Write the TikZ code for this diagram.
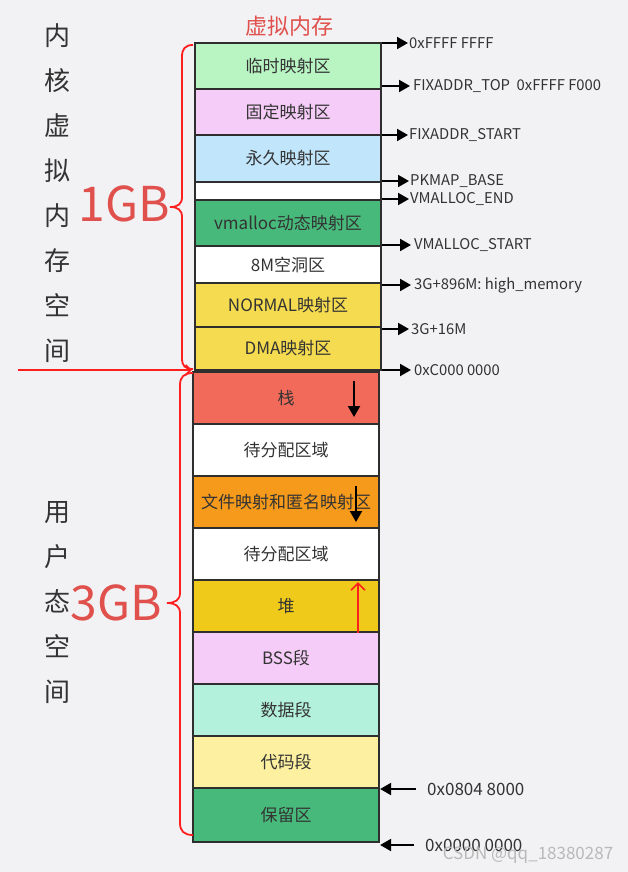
\documentclass[tikz,border=0pt]{standalone}
\usepackage{fontspec}
\setmainfont{Noto Sans CJK SC}
\usetikzlibrary{arrows.meta}
\definecolor{bg}{HTML}{F2F2F4}
\definecolor{boxline}{HTML}{2E2E2E}
\definecolor{txt}{HTML}{333333}
\definecolor{titlered}{HTML}{E0504C}
\definecolor{brred}{HTML}{FF1E1E}
\definecolor{cgreenl}{HTML}{B9F4C3}
\definecolor{cpink}{HTML}{F5CCF7}
\definecolor{cblue}{HTML}{C1E6FB}
\definecolor{cgreen}{HTML}{47B97B}
\definecolor{cyellow}{HTML}{F4DB4F}
\definecolor{cstack}{HTML}{F26A5A}
\definecolor{corange}{HTML}{F59A1B}
\definecolor{cheap}{HTML}{F0CA1A}
\definecolor{cmint}{HTML}{B3F1DC}
\definecolor{ccode}{HTML}{FDF1A1}
\begin{document}
\begin{tikzpicture}[x=1pt,y=-1pt,
  box/.style={draw=boxline,line width=2.2pt,minimum width=186pt,inner sep=0pt,
    font=\fontsize{17}{20}\selectfont,text=txt},
  arr/.style={line width=2pt,-{Triangle[length=11pt,width=12pt]}},
  lbl/.style={anchor=west,inner sep=0pt,font=\fontsize{14.8}{16}\selectfont,text=txt},
  lblb/.style={anchor=west,inner sep=0pt,font=\fontsize{17}{18}\selectfont,text=txt},
  redline/.style={draw=brred,line width=1.8pt},
  vtext/.style={align=center,inner sep=0pt,text=txt,font=\fontsize{26}{45}\selectfont},
  big/.style={inner sep=0pt,text=titlered,font=\fontsize{48}{50}\selectfont}
]
\fill[bg] (0,0) rectangle (628,872);
\useasboundingbox (0,0) rectangle (628,872);

% title
\node[text=titlered,font=\fontsize{22}{24}\selectfont] (title) at (289,26) {虚拟内存};

% kernel boxes
\node[box,fill=cgreenl,minimum height=46pt] (k1) at (288,66) {临时映射区};
\node[box,fill=cpink,minimum height=46pt] (k2) at (288,112) {固定映射区};
\node[box,fill=cblue,minimum height=47pt] (k3) at (288,158.5) {永久映射区};
\node[box,fill=white,minimum height=18pt] (k4) at (288,191) {};
\node[box,fill=cgreen,minimum height=46pt] (k5) at (288,223) {vmalloc动态映射区};
\node[box,fill=white,minimum height=37pt] (k6) at (288,264.5) {8M空洞区};
\node[box,fill=cyellow,minimum height=44pt] (k7) at (288,305) {NORMAL映射区};
\node[box,fill=cyellow,minimum height=43pt] (k8) at (288,348.5) {DMA映射区};

% user boxes
\node[box,fill=cstack,minimum height=52pt] (u1) at (286,398) {栈};
\node[box,fill=white,minimum height=52pt] (u2) at (286,450) {待分配区域};
\node[box,fill=corange,minimum height=52pt] (u3) at (286,502) {文件映射和匿名映射区};
\node[box,fill=white,minimum height=52pt] (u4) at (286,554) {待分配区域};
\node[box,fill=cheap,minimum height=52pt] (u5) at (286,606) {堆};
\node[box,fill=cpink,minimum height=52pt] (u6) at (286,658) {BSS段};
\node[box,fill=cmint,minimum height=52pt] (u7) at (286,710) {数据段};
\node[box,fill=ccode,minimum height=52pt] (u8) at (286,762) {代码段};
\node[box,fill=cgreen,minimum height=54pt] (u9) at (286,815) {保留区};

% right labels (kernel)
\node[lbl] (l1) at (409,43) {0xFFFF FFFF};
\node[lbl] (l2) at (413,86) {FIXADDR\_TOP\ \ 0xFFFF F000};
\node[lbl] (l3) at (409,135) {FIXADDR\_START};
\node[lbl] (l4) at (410,181) {PKMAP\_BASE};
\node[lbl] (l5) at (410,199) {VMALLOC\_END};
\node[lbl] (l6) at (414,245) {VMALLOC\_START};
\node[lbl] (l7) at (414,285) {3G+896M: high\_memory};
\node[lbl] (l8) at (411,329) {3G+16M};
\node[lbl] (l9) at (414,370) {0xC000 0000};

\draw[arr] (k1.east |- l1.west) -- ([xshift=-1pt]l1.west);
\draw[arr] (k1.east |- l2.west) -- ([xshift=-3pt]l2.west);
\draw[arr] (k3.east |- l3.west) -- ([xshift=-1pt]l3.west);
\draw[arr] (k3.east |- l4.west) -- ([xshift=-1pt]l4.west);
\draw[arr] (k5.east |- l5.west) -- ([xshift=-1pt]l5.west);
\draw[arr] (k5.east |- l6.west) -- ([xshift=-3pt]l6.west);
\draw[arr] (k7.east |- l7.west) -- ([xshift=-3pt]l7.west);
\draw[arr] (k8.east |- l8.west) -- ([xshift=-2pt]l8.west);
\draw[arr] (k8.east |- l9.west) -- ([xshift=-3pt]l9.west);

% bottom labels (user)
\node[lblb] (l10) at (427,789) {0x0804 8000};
\node[lblb] (l11) at (425,845) {0x0000 0000};
\coordinate (t10) at (416,789);
\coordinate (t11) at (414,845);
\draw[arr] (t10) -- (u8.east |- t10);
\draw[arr] (t11) -- (u9.east |- t11);

% inner arrows
\coordinate (sa) at (354,381);
\coordinate (sb) at (354,417);
\draw[arr] (sa) -- (sb);
\coordinate (fa) at (356,486);
\coordinate (fb) at (356,522);
\draw[arr] (fa) -- (fb);
\coordinate (ha) at (358,633);
\coordinate (hb) at (358,582);
\draw[redline,line width=1.6pt,-{Straight Barb[length=7pt,width=14pt]}] (ha) -- (hb);

% braces
\draw[redline] (193,45) .. controls (185,45) and (182,49) .. (182,57) -- (182,197)
  .. controls (182,204) and (178,207) .. (170,207)
  .. controls (178,207) and (182,210) .. (182,217) -- (182,358)
  .. controls (182,366) and (185,369) .. (193,369);
\draw[redline] (193,373) .. controls (184,373) and (180,377) .. (180,385) -- (180,593)
  .. controls (180,600) and (175,603) .. (167,603)
  .. controls (175,603) and (180,606) .. (180,613) -- (180,823)
  .. controls (180,831) and (184,835) .. (193,835);

% red horizontal arrow
\coordinate (rs) at (18,370);
\draw[redline,-{Straight Barb[length=5pt,width=10pt]}] (rs) -- (rs -| u1.west);

% left texts
\node[vtext] (kt) at (57,193.5) {内\\核\\虚\\拟\\内\\存\\空\\间};
\node[vtext] (ut) at (57,602.5) {用\\户\\态\\空\\间};
\node[big] (g1) at (124,204) {1GB};
\node[big] (g3) at (116,603) {3GB};

% watermark
\node[text=gray!55,font=\fontsize{17}{18}\selectfont,inner sep=0pt] (wm) at (528,855) {CSDN @qq\_18380287};
\end{tikzpicture}
\end{document}
